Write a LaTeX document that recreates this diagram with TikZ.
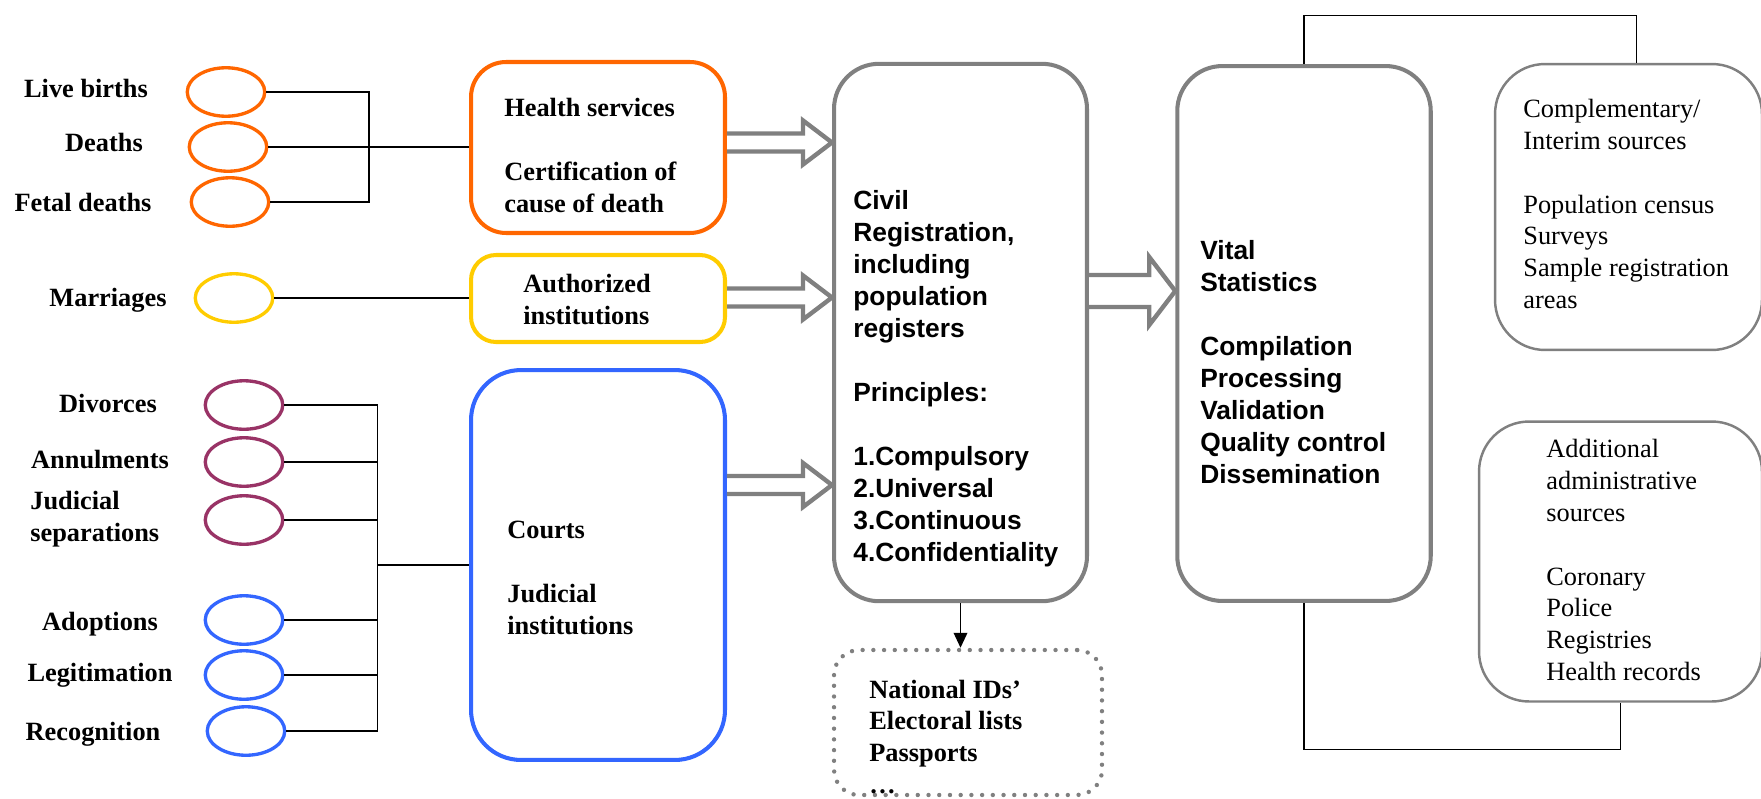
\documentclass[tikz,border=0pt]{standalone}
\usepackage{fontspec}
\setmainfont{Liberation Serif}
\setsansfont{Liberation Sans}
\usetikzlibrary{arrows, arrows.meta, shapes, calc}

\definecolor{hsorange}{RGB}{255,102,0}
\definecolor{aiyellow}{RGB}{255,204,0}
\definecolor{dvpurple}{RGB}{153,51,102}
\definecolor{ctblue}{RGB}{51,102,255}
\definecolor{boxgray}{RGB}{128,128,128}

% open (hollow) block arrow: from, to, shaft half width, head half width, head length
\newcommand{\openarrow}[5]{%
  \draw[hollow] let \p1 = (#1), \p2 = (#2) in
    (\x1, \y1+#3) -- (\x2-#5, \y1+#3) -- (\x2-#5, \y1+#4) -- (\x2, \y1)
    -- (\x2-#5, \y1-#4) -- (\x2-#5, \y1-#3) -- (\x1, \y1-#3);}

\begin{document}
\begin{tikzpicture}[x=0.02cm, y=-0.02cm,
    txt/.style={font=\fontsize{15}{18.2}\selectfont, inner sep=0pt, align=left},
    btxt/.style={txt, font=\fontsize{15}{18.2}\selectfont\bfseries},
    stxt/.style={txt, font=\fontsize{15}{18.2}\selectfont\sffamily\bfseries},
    ev/.style={draw, ellipse, line width=1.9pt, minimum width=1.55cm, minimum height=0.97cm, inner sep=0pt},
    srcbox/.style={draw, line width=2.3pt, minimum width=5.08cm, inner sep=0pt},
    mainbox/.style={draw=boxgray, line width=2.3pt, rounded corners=0.9cm, inner sep=0pt},
    sidebox/.style={draw=boxgray, line width=1.4pt, rounded corners=1cm, inner sep=0pt},
    hollow/.style={draw=boxgray, line width=2.5pt, fill=white, line join=miter},
    conn/.style={line width=1pt},
    frame/.style={line width=0.9pt}]

    \useasboundingbox (0,0) rectangle (1761,798);

    % Nodes
    \node[btxt] (tlb) at (86, 88) {Live births};
    \node[btxt] (tde) at (104, 142) {Deaths};
    \node[btxt] (tfd) at (83, 202) {Fetal deaths};
    \node[btxt] (tma) at (108, 300) {Marriages};
    \node[btxt] (tdi) at (108, 403) {Divorces};
    \node[btxt] (tan) at (100, 460) {Annulments};
    \node[btxt, anchor=west] (tjs) at (30, 519.5) {Judicial\\separations};
    \node[btxt] (tad) at (100, 624) {Adoptions};
    \node[btxt] (tle) at (100, 675) {Legitimation};
    \node[btxt] (tre) at (93, 734) {Recognition};

    \node[ev, draw=hsorange] (lb) at (226, 92) {};
    \node[ev, draw=hsorange] (de) at (228, 147) {};
    \node[ev, draw=hsorange] (fd) at (230, 202) {};
    \node[ev, draw=aiyellow] (ma) at (234, 298) {};
    \node[ev, draw=dvpurple] (di) at (244, 405) {};
    \node[ev, draw=dvpurple] (an) at (244, 462) {};
    \node[ev, draw=dvpurple] (js) at (244, 520) {};
    \node[ev, draw=ctblue] (ad) at (244, 620) {};
    \node[ev, draw=ctblue] (le) at (244, 675) {};
    \node[ev, draw=ctblue] (re) at (246, 731) {};

    \node[srcbox, draw=hsorange, rounded corners=0.7cm, minimum height=3.42cm] (hs) at (598, 147.5) {};
    \node[srcbox, draw=aiyellow, rounded corners=0.5cm, minimum height=1.74cm] (ai) at (598, 298.5) {};
    \node[srcbox, draw=ctblue, rounded corners=1cm, minimum height=7.8cm] (ct) at (598, 565) {};
    \node[btxt, anchor=west] (ths) at (504, 155.5) {Health services\\[18.2pt]Certification of\\cause of death};
    \node[btxt, anchor=west] (tai) at (523, 300) {Authorized\\institutions};
    \node[btxt, anchor=west] (tct) at (507, 577.5) {Courts\\[18.2pt]Judicial\\institutions};

    \node[mainbox, minimum width=5.06cm, minimum height=10.75cm] (civ) at (960.5, 332.5) {};
    \node[stxt, anchor=west] (tciv) at (853, 379) {Civil\\Registration,\\including\\population\\registers\\[18.2pt]Principles:\\[18.2pt]1.Compulsory\\2.Universal\\3.Continuous\\4.Confidentiality};
    \node[mainbox, minimum width=5.07cm, minimum height=10.7cm] (vs) at (1304, 333.5) {};
    \node[stxt, anchor=west] (tvs) at (1200, 362) {Vital\\Statistics\\[18.2pt]Compilation\\Processing\\Validation\\Quality control\\Dissemination};

    \node[sidebox, minimum width=5.34cm, minimum height=5.72cm] (cs) at (1628.5, 207) {};
    \node[txt, anchor=west] (tcs) at (1523, 204) {Complementary/\\Interim sources\\[18.2pt]Population census\\Surveys\\Sample registration\\areas};
    \node[sidebox, minimum width=5.66cm, minimum height=5.6cm] (as) at (1620.5, 561.5) {};
    \node[txt, anchor=west] (tas) at (1546, 560) {Additional\\administrative\\sources\\[18.2pt]Coronary\\Police\\Registries\\Health records};

    \node[draw=boxgray, line width=2.5pt, line cap=round, dash pattern=on 0pt off 6.1pt,
          rounded corners=0.5cm, minimum width=5.36cm, minimum height=2.9cm, inner sep=0pt] (nid) at (968, 722.5) {};
    \node[btxt, anchor=west] (tnid) at (869, 737) {National IDs’\\Electoral lists\\Passports\\…};

    \coordinate (topl) at (1304, 15.5);
    \coordinate (topr) at (1636.5, 15.5);
    \coordinate (botl) at (1304, 749.5);
    \coordinate (botr) at (1620.5, 749.5);

    % Edges
    \draw[conn] (lb.east) -- (lb.east -| 369,0) |- (fd.east);
    \draw[conn, line width=1.5pt] (de.east) -- (hs.west |- de.east);
    \draw[conn] (ma.east) -- (ai.west |- ma.east);
    \draw[conn] (di.east) -- (di.east -| 377.5,0) |- (re.east);
    \draw[conn] (an.east) -- (an.east -| 377.5,0);
    \draw[conn] (js.east) -- (js.east -| 377.5,0);
    \draw[conn] (ad.east) -- (ad.east -| 377.5,0);
    \draw[conn] (le.east) -- (le.east -| 377.5,0);
    \draw[conn, line width=1.5pt] (ct.west -| 377.5,0) -- (ct.west);

    \openarrow{hs.east |- 0,142.5}{civ.west |- 0,142.5}{0.18cm}{0.44cm}{0.58cm}
    \openarrow{ai.east |- 0,297.5}{civ.west |- 0,297.5}{0.18cm}{0.44cm}{0.58cm}
    \openarrow{ct.east |- 0,485}{civ.west |- 0,485}{0.18cm}{0.44cm}{0.58cm}
    \openarrow{civ.east |- 0,291}{vs.west |- 0,291}{0.32cm}{0.68cm}{0.52cm}

    \draw[line width=1.1pt, -{Triangle[length=0.3cm, width=0.27cm]}] (civ.south) -- (civ.south |- nid.north);

    \draw[frame] (vs.north) -- (topl) -- (topr) -- (topr |- cs.north);
    \draw[frame] (vs.south) -- (botl) -- (botr) -- (botr |- as.south);
\end{tikzpicture}
\end{document}
